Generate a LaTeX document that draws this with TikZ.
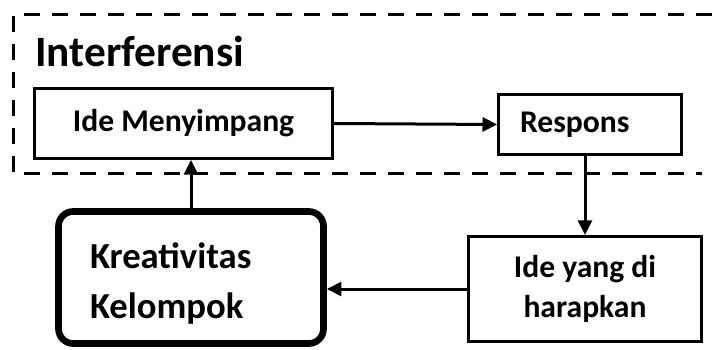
\documentclass[tikz,border=0pt]{standalone}
\usepackage{fontspec}
\setmainfont{Carlito}
\usetikzlibrary{arrows.meta}

\begin{document}
\begin{tikzpicture}[x=0.75pt,y=-0.75pt,
	kotak/.style={draw, line width=2.25pt, inner sep=0pt, font=\bfseries\fontsize{23.7}{30}\selectfont},
	panah/.style={-{Triangle[length=11pt,width=10.5pt]}, line width=2.25pt}]
	\useasboundingbox (0,0) rectangle (712,349);
	\draw [line width=2.25pt, dash pattern=on 12pt off 9pt] (712,15) -- (13,15) -- (13,173) -- (702,173);
	\node [anchor=base west, inner sep=0pt, font=\bfseries\fontsize{32.5}{38}\selectfont] (judul) at (35,67) {Interferensi};
	\node [kotak, minimum width=223.5pt, minimum height=52.5pt] (ide) at (183.5,123.5) {Ide Menyimpang};
	\node [kotak, minimum height=45pt, text width=105pt, inner xsep=16pt, align=left] (respons) at (590,124.5) {Respons};
	\node [kotak, minimum width=174.75pt, minimum height=78.75pt, align=center] (harapan) at (585,289) {Ide yang di\\harapkan};
	\node [kotak, line width=5pt, rounded corners=11pt, minimum height=99pt, text width=151.5pt, inner xsep=23.6pt, align=left, text height=20pt, text depth=34.25pt, font=\bfseries\fontsize{27.5}{37.5}\selectfont] (kreatif) at (191,277.5) {Kreativitas\\Kelompok};
	\draw [panah] (ide.east) -- (respons.west);
	\draw [panah] (kreatif.north) -- (kreatif.north |- ide.south);
	\draw [panah] (harapan.north |- respons.south) -- (harapan.north);
	\draw [panah] (harapan.west) -- (harapan.west -| kreatif.east);
\end{tikzpicture}
\end{document}
